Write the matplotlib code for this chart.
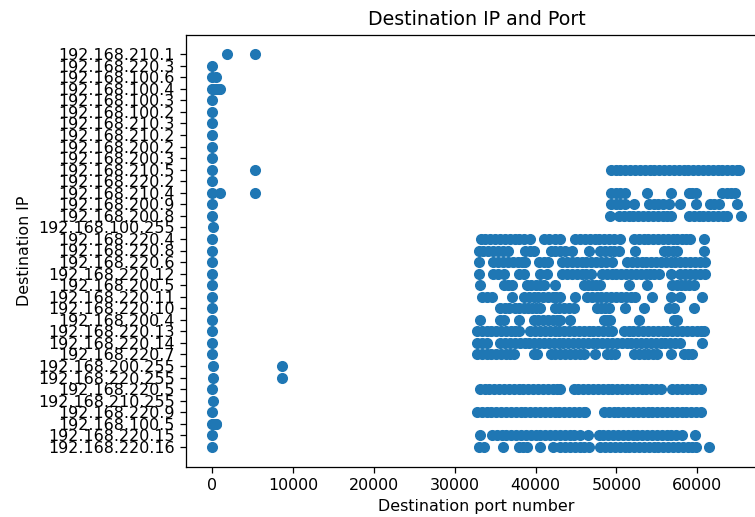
import matplotlib
matplotlib.use("Agg")
import matplotlib.pyplot as plt

# destination ports seen per destination IP
p_210_1 = [1900, 5353]
p_220_3 = [53]
p_100_6 = [53, 443]
p_100_4 = [53, 137, 443, 853, 1000]
p_100_3 = [53]
p_100_2 = [53]
p_210_3 = [53]
p_210_2 = [53]
p_200_2 = [53]
p_200_3 = [53]
p_210_5 = [53, 5353,
           49300, 49900, 50500, 51100, 51700, 52300, 52900, 53500, 54100, 54700,
           55300, 55900, 56500, 57100, 57700, 58300, 58900, 59500, 60100, 60700,
           61300, 61900, 62500, 63100, 63700, 64300, 64900, 65100]
p_220_2 = [53]
p_210_4 = [53, 1000, 5353,
           49300, 49900, 50500, 51100, 53800, 56700, 58950, 59400, 59800,
           63100, 63700, 64200, 64700]
p_200_9 = [53, 49300, 49900, 50500, 51100, 52150, 54000, 54600, 55200, 55800,
           56450, 57900, 59800, 61600, 62100, 62650, 64950]
p_200_8 = [53, 49250, 50300, 50900, 51500, 52100, 52700, 53300, 53900, 54500,
           55100, 55700, 56300, 56700, 58950, 59550, 60150, 60750, 61350, 61950,
           62550, 63150, 63700, 65350]
p_100_255 = [137]
p_220_4 = [53, 33200, 33800, 34400, 35000, 35600, 36200, 36800, 37400, 38000,
           38600, 39300, 41000, 41700, 42400, 43050, 44900, 45500, 46100, 46700,
           47300, 47900, 48500, 49100, 49700, 50500, 52150, 52750, 53350, 53950,
           54550, 55150, 55750, 56350, 56950, 57550, 58150, 58650, 59150, 60800]
p_220_8 = [53, 32950, 33550, 34150, 34750, 35350, 35950, 36650, 38750, 39300,
           39750, 41850, 42400, 43000, 43600, 44500, 46550, 48000, 48600, 49200,
           49700, 50300, 52350, 55850, 56400, 57000, 57500, 60800]
p_220_6 = [53, 32950, 34800, 35400, 36000, 36600, 37200, 37800, 38300, 38750,
           40400, 41000, 41600, 43300, 43900, 44500, 45100, 45700, 46300, 46900,
           47500, 48100, 48700, 49450, 51300, 51900, 52500, 53100, 53700, 54300,
           54900, 55500, 56100, 56700, 57300, 57900, 58500, 59100, 59700, 60300,
           61000]
p_220_12 = [53, 32950, 34800, 35400, 36050, 37900, 38550, 40600, 41400, 43300,
            43900, 44500, 45100, 45700, 46250, 46800, 48200, 48800, 49400, 50000,
            50600, 51200, 51800, 52400, 53000, 53600, 54200, 54700, 55250, 56700,
            57900, 58500, 59100, 59700, 60300, 61000]
p_200_5 = [53, 33150, 36050, 36550, 37100, 38950, 39500, 40000, 40500, 41000,
           42350, 45950, 46500, 47000, 47500, 48000, 51500, 53800, 56900, 57500,
           58000, 58500, 59000, 59550]
p_220_11 = [53, 33350, 33950, 34600, 37100, 38550, 39150, 39750, 40350, 40950,
            41550, 42150, 42550, 43050, 44900, 46350, 46950, 47550, 48150, 48750,
            49350, 49950, 50550, 51150, 51750, 52350, 54400, 56700, 57900, 60600]
p_220_10 = [53, 35650, 36200, 36700, 37500, 38000, 38550, 39100, 39550, 40100,
            40600, 42450, 42950, 43500, 44100, 44700, 47600, 48100, 48600, 49050,
            51100, 53400, 56450, 57100, 59550]
p_200_4 = [53, 33150, 35650, 36050, 37900, 39750, 40350, 40950, 41550, 42150,
           42600, 43050, 44300, 48450, 48850, 49250, 52750, 57100, 57500]
p_220_13 = [53, 32750, 33350, 33950, 34550, 35150, 35750, 36350, 36950, 37500,
            37900, 39350, 39950, 40550, 41150, 41750, 42350, 42950, 43550, 44150,
            44750, 45350, 45950, 46550, 47150, 47750, 48350, 48900, 49450, 50900,
            51500, 52100, 52700, 53300, 53900, 54500, 55100, 55700, 56300, 56900,
            57500, 58100, 58700, 59300, 59900, 60400, 60800]
p_220_14 = [53, 32750, 33350, 34000, 35650, 36250, 36850, 37450, 38050, 38650,
            39250, 39850, 40450, 41050, 41650, 42250, 42850, 43450, 44050, 44650,
            45250, 45850, 46450, 47050, 47650, 48250, 48850, 49450, 50050, 50650,
            51250, 51850, 52450, 53050, 53650, 54250, 54850, 55450, 56050, 56650,
            57250, 57900, 60600]
p_220_7 = [53, 32750, 33350, 33950, 34550, 35150, 35750, 36350, 36800, 37300,
           39750, 40200, 41850, 42450, 43050, 43650, 44250, 44850, 45450, 45950,
           47400, 48850, 49350, 49850, 52150, 52750, 53350, 53950, 54500, 55050,
           56700, 58350, 58850, 59350]
p_200_255 = [137, 8612]
p_220_255 = [137, 8612]
p_220_5 = [53, 33150, 33750, 34300, 34900, 35500, 36100, 36700, 37300, 37900,
           38500, 39100, 39700, 40300, 40900, 41500, 42100, 42600, 43050, 44700,
           45300, 45900, 46500, 47100, 47700, 48300, 48900, 49500, 50100, 50700,
           51300, 51900, 52500, 53100, 53700, 54300, 54900, 55450, 56900, 57500,
           58100, 58700, 59300, 59850, 60400]
p_210_255 = [137]
p_220_9 = [53, 32750, 33350, 33950, 34550, 35150, 35750, 36350, 36950, 37550,
           38150, 38750, 39350, 39950, 40550, 41150, 41750, 42350, 42950, 43550,
           44150, 44750, 45350, 45950, 46150, 48450, 49050, 49650, 50250, 50850,
           51450, 52050, 52650, 53250, 53850, 54450, 55050, 55650, 56250, 56850,
           57450, 58050, 58650, 59250, 59850, 60400]
p_100_5 = [53, 123, 443, 500]
p_220_15 = [53, 33150, 34600, 35200, 35800, 36400, 37000, 37600, 38200, 38800,
            39400, 40000, 40600, 41200, 41800, 42400, 43000, 43600, 44200, 44800,
            45550, 46500, 47800, 48400, 49000, 49600, 50200, 50800, 51400, 52000,
            52600, 53200, 53800, 54400, 55000, 55600, 56200, 56800, 57400, 58100,
            59750]
p_220_16 = [53, 33000, 33600, 35950, 37900, 38450, 38950, 40600, 42100, 43050,
            43650, 44250, 44850, 45450, 46050, 46600, 48000, 48600, 49200, 49800,
            50400, 51000, 51600, 52200, 52800, 53400, 54000, 54600, 55200, 55800,
            56400, 57000, 57600, 58200, 58800, 59350, 59800, 61450]

# bottom to top, as the categories appear on the y axis
rows = [
    ("192.168.220.16", p_220_16), ("192.168.220.15", p_220_15),
    ("192.168.100.5", p_100_5), ("192.168.220.9", p_220_9),
    ("192.168.210.255", p_210_255), ("192.168.220.5", p_220_5),
    ("192.168.220.255", p_220_255), ("192.168.200.255", p_200_255),
    ("192.168.220.7", p_220_7), ("192.168.220.14", p_220_14),
    ("192.168.220.13", p_220_13), ("192.168.200.4", p_200_4),
    ("192.168.220.10", p_220_10), ("192.168.220.11", p_220_11),
    ("192.168.200.5", p_200_5), ("192.168.220.12", p_220_12),
    ("192.168.220.6", p_220_6), ("192.168.220.8", p_220_8),
    ("192.168.220.4", p_220_4), ("192.168.100.255", p_100_255),
    ("192.168.200.8", p_200_8), ("192.168.200.9", p_200_9),
    ("192.168.210.4", p_210_4), ("192.168.220.2", p_220_2),
    ("192.168.210.5", p_210_5), ("192.168.200.3", p_200_3),
    ("192.168.200.2", p_200_2), ("192.168.210.2", p_210_2),
    ("192.168.210.3", p_210_3), ("192.168.100.2", p_100_2),
    ("192.168.100.3", p_100_3), ("192.168.100.4", p_100_4),
    ("192.168.100.6", p_100_6), ("192.168.220.3", p_220_3),
    ("192.168.210.1", p_210_1),
]

ports = []
ips = []
for ip, plist in rows:
    ports += plist
    ips += [ip] * len(plist)

DPI = 114
fig = plt.figure(figsize=(755 / DPI, 517 / DPI), dpi=DPI)
# the reference is cropped on the right, so the axes run past the figure edge
ax = fig.add_axes([186 / 755, 50.5 / 517, 581 / 755, 432 / 517])

ax.scatter(ports, ips)
ax.set_title("Destination IP and Port")
ax.set_xlabel("Destination port number")
ax.set_ylabel("Destination IP")

fig.savefig("out.png", dpi=DPI)
